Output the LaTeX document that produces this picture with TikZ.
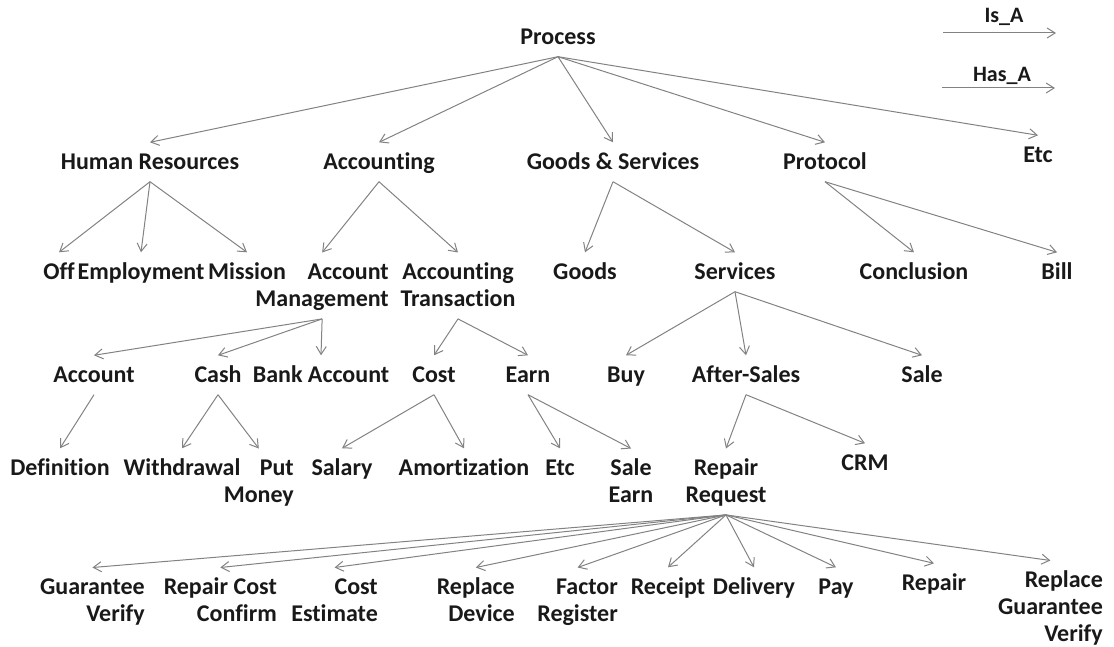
\documentclass[tikz,border=0pt]{standalone}
\usepackage{fontspec}
\setmainfont{Carlito}[Ligatures=NoCommon]
\usetikzlibrary{arrows.meta}

\definecolor{linegray}{RGB}{130,130,130}
\definecolor{textblack}{RGB}{25,25,25}
\newcommand{\tstrut}{\rule[-5pt]{0pt}{25pt}}

\tikzset{
  term/.style={font=\fontsize{24}{27}\selectfont\bfseries, text=textblack, inner xsep=0pt, inner ysep=7pt, text height=20pt, text depth=5pt},
  multi/.style={font=\fontsize{24}{27}\selectfont\bfseries, text=textblack, inner xsep=0pt, inner ysep=7pt},
  legend/.style={font=\fontsize{22}{26}\selectfont\bfseries, text=textblack, inner sep=0pt},
  relline/.style={draw=linegray, line width=1pt, -{Straight Barb[length=8pt,width=10pt]}},
  rel/.style={every edge/.style={relline}}
}

\begin{document}
\begin{tikzpicture}[x=1pt,y=-1pt]
  \useasboundingbox (0,0) rectangle (1114,647);
  % legend
  \node[legend] (isa) at (1004,17) {Is\_A};
  \coordinate (isaL) at (943,33);
  \coordinate (isaR) at (1056,33);
  \node[legend] (hasa) at (1002,76) {Has\_A};
  \coordinate (hasaL) at (942,88);
  \coordinate (hasaR) at (1055,88);
  \draw[relline] (isaL) -- (isaR);
  \draw[relline] (hasaL) -- (hasaR);
  % root and first level
  \node[term] (process) at (558,37) {Process};
  \node[term] (hr) at (150,162) {Human Resources};
  \node[term] (acc) at (379,162) {Accounting};
  \node[term] (gs) at (613,162) {Goods \& Services};
  \node[term] (proto) at (825,162) {Protocol};
  \node[term] (etcA) at (1038,155) {Etc};
  % second level
  \node[term] (off) at (59,272) {Off};
  \node[term] (employ) at (141,272) {Employment};
  \node[term] (mission) at (247,272) {Mission};
  \node[multi, align=right, anchor=north east] (accmgmt) at (389,252.5) {Account\tstrut\\Management\tstrut};
  \node[multi, align=center, anchor=north] (acctrans) at (458,252.5) {Accounting\tstrut\\Transaction\tstrut};
  \node[term] (goods) at (585,272) {Goods};
  \node[term] (services) at (735,272) {Services};
  \node[term] (concl) at (914,272) {Conclusion};
  \node[term] (bill) at (1057,272) {Bill};
  % third level
  \node[term] (account) at (94,375) {Account};
  \node[term] (cash) at (218,375) {Cash};
  \node[term] (bank) at (321,375) {Bank Account};
  \node[term] (cost) at (434,375) {Cost};
  \node[term] (earn) at (528,375) {Earn};
  \node[term] (buy) at (626,375) {Buy};
  \node[term] (aftersales) at (746,375) {After-Sales};
  \node[term] (sale) at (922,375) {Sale};
  % fourth level
  \node[term] (defn) at (60,468) {Definition};
  \node[term] (withdraw) at (182,468) {Withdrawal};
  \node[multi, align=right, anchor=north east] (putmoney) at (294,448.5) {Put\tstrut\\Money\tstrut};
  \node[term] (salary) at (342,468) {Salary};
  \node[term] (amort) at (464,468) {Amortization};
  \node[term] (etcB) at (560,468) {Etc};
  \node[multi, align=center, anchor=north] (saleearn) at (631,448.5) {Sale\tstrut\\Earn\tstrut};
  \node[multi, align=center, anchor=north] (repreq) at (726,448.5) {Repair\tstrut\\Request\tstrut};
  \node[term] (crm) at (865,463) {CRM};
  % fifth level
  \node[multi, align=right, anchor=north east] (guarver) at (145,567.5) {Guarantee\tstrut\\Verify\tstrut};
  \node[multi, align=right, anchor=north east] (repcost) at (277,567.5) {Repair Cost\tstrut\\Confirm\tstrut};
  \node[multi, align=right, anchor=north east] (costest) at (378,567.5) {Cost\tstrut\\Estimate\tstrut};
  \node[multi, align=right, anchor=north east] (repdev) at (515,567.5) {Replace\tstrut\\Device\tstrut};
  \node[multi, align=right, anchor=north east] (factor) at (618,567.5) {Factor\tstrut\\Register\tstrut};
  \node[term] (receipt) at (668,587) {Receipt};
  \node[term] (delivery) at (754,587) {Delivery};
  \node[term] (pay) at (836,587) {Pay};
  \node[term] (repair) at (934,583) {Repair};
  \node[multi, align=right, anchor=north east] (repguar) at (1103,560.5) {Replace\tstrut\\Guarantee\\Verify\tstrut};
  % relations
  \path[rel] (process.south) edge (hr.north) edge (acc.north) edge (gs.north) edge (proto.north) edge (etcA.north);
  \path[rel] (hr.south) edge (off.north) edge (employ.north) edge (mission.north);
  \path[rel] (acc.south) edge (accmgmt.north) edge (acctrans.north);
  \path[rel] (gs.south) edge (goods.north) edge (services.north);
  \path[rel] (proto.south) edge (concl.north) edge (bill.north);
  \path[rel] (accmgmt.south) edge (account.north) edge (cash.north) edge (bank.north);
  \path[rel] (acctrans.south) edge (cost.north) edge (earn.north);
  \path[rel] (services.south) edge (buy.north) edge (aftersales.north) edge (sale.north);
  \path[rel] (account.south) edge (defn.north);
  \path[rel] (cash.south) edge (withdraw.north) edge (putmoney.north);
  \path[rel] (cost.south) edge (salary.north) edge (amort.north);
  \path[rel] (earn.south) edge (etcB.north) edge (saleearn.north);
  \path[rel] (aftersales.south) edge (repreq.north) edge (crm.north);
  \path[rel] (repreq.south) edge (guarver.north) edge (repcost.north) edge (costest.north) edge (repdev.north) edge (factor.north)
    edge (receipt.north) edge (delivery.north) edge (pay.north) edge (repair.north) edge (repguar.north);
\end{tikzpicture}
\end{document}
